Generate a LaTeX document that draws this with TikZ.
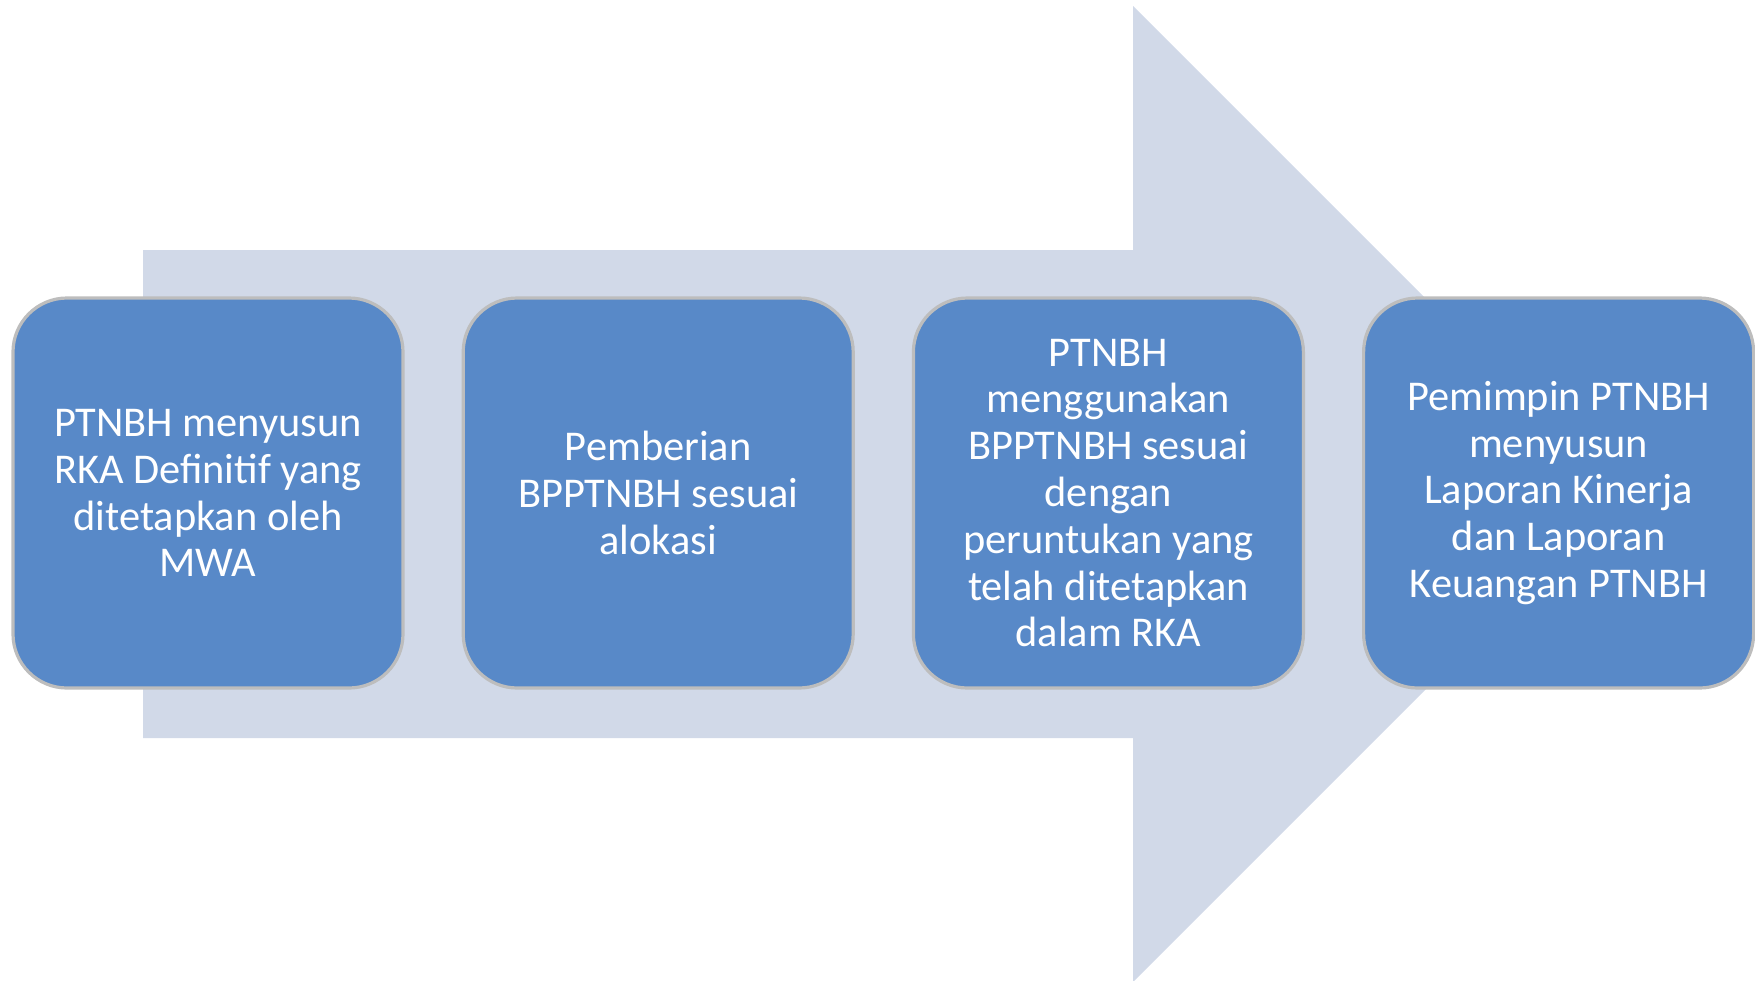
\documentclass[tikz,border=0pt]{standalone}
\usepackage{fontspec}
\setmainfont{Carlito}
\usetikzlibrary{positioning}

\definecolor{panah}{HTML}{D1D9E8}
\definecolor{kotak}{HTML}{5889C8}
\definecolor{tepi}{HTML}{BDBDBD}

\tikzset{
  langkah/.style={draw=tepi, line width=1.6pt, fill=kotak, rounded corners=27pt,
    minimum width=195pt, minimum height=195pt, inner sep=0pt,
    text=white, align=center, font=\fontsize{21.2}{23.4}\selectfont}
}

\begin{document}
\begin{tikzpicture}[x=0.5pt, y=-0.5pt]
  % Rahmen
  \useasboundingbox (0,0) rectangle (1755,980);

  % Panah besar di belakang
  \fill[panah] (143,250) -- (1133,250) -- (1133,6) -- (1621,494)
    -- (1133,982) -- (1133,738) -- (143,738) -- cycle;

  % Langkah-langkah
  \node[langkah] (s1) at (208,493) {PTNBH menyusun\\RKA Definitif yang\\ditetapkan oleh\\MWA};
  \node[langkah, right=28.5pt of s1] (s2) {Pemberian\\BPPTNBH sesuai\\alokasi};
  \node[langkah, right=28.5pt of s2] (s3) {PTNBH\\menggunakan\\BPPTNBH sesuai\\dengan\\peruntukan yang\\telah ditetapkan\\dalam RKA};
  \node[langkah, right=28.5pt of s3] (s4) {Pemimpin PTNBH\\menyusun\\Laporan Kinerja\\dan Laporan\\Keuangan PTNBH};
\end{tikzpicture}
\end{document}
